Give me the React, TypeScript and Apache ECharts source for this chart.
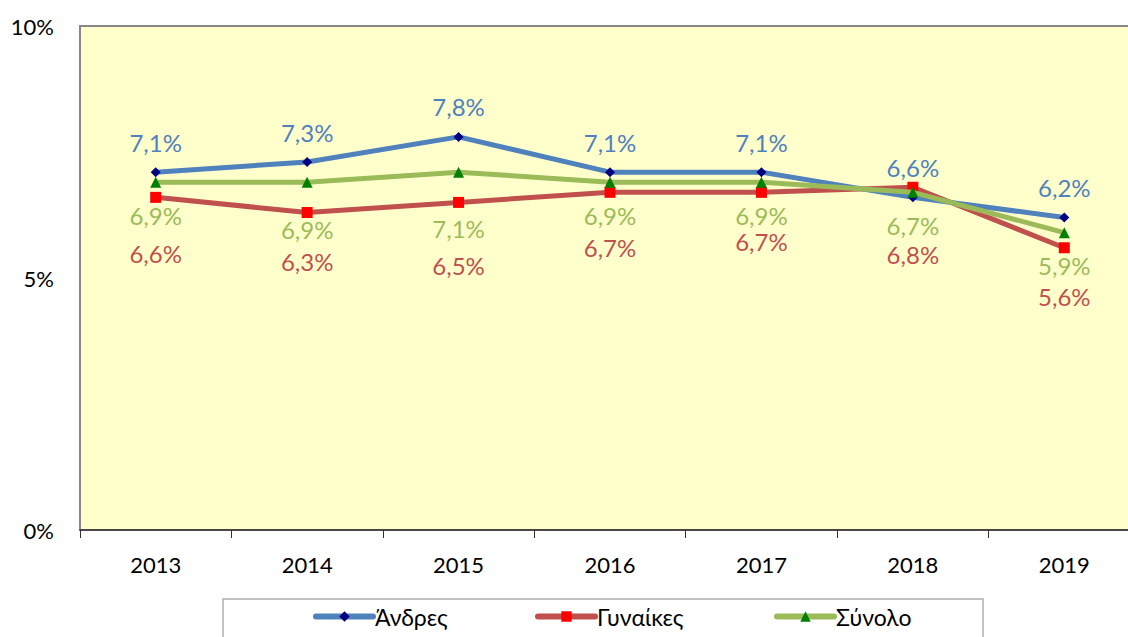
import React, { useEffect, useRef } from "react";
import * as echarts from "echarts";

const years = ["2013", "2014", "2015", "2016", "2017", "2018", "2019"];
const men = [7.1, 7.3, 7.8, 7.1, 7.1, 6.6, 6.2];
const women = [6.6, 6.3, 6.5, 6.7, 6.7, 6.8, 5.6];
const total = [6.9, 6.9, 7.1, 6.9, 6.9, 6.7, 5.9];
const seriesNames = ["Άνδρες", "Γυναίκες", "Σύνολο"];
const yTicks = [0, 5, 10];

const FONT = "Lato";
const fmt = (v: number) => v.toFixed(1).replace(".", ",") + "%";

export default function App() {
  const ref = useRef<HTMLDivElement>(null);
  useEffect(() => {
    document.body.style.margin = "0";
    const chart = echarts.init(ref.current!, null, { renderer: "svg" });
    const womenDist = [39, 32, 46, 38, 32, 50, 31];
    const totalDist = [16, 30, 39, 16, 16, 16, 15];
    const mkData = (vals: number[], dist: number[]) =>
      vals.map((v, i) => ({ value: v, label: { distance: dist[i] } }));
    const legendLefts = [308, 530, 769];
    const legendBase = {
      top: 600,
      itemWidth: 57,
      itemHeight: 13,
      lineStyle: { width: 6, cap: "round" },
      textStyle: { fontSize: 23, color: "#000", fontFamily: FONT, padding: [0, 0, 0, -3] },
    };
    chart.setOption({
      animation: false,
      textStyle: { fontFamily: FONT },
      grid: {
        left: 80,
        top: 26,
        width: 1060,
        height: 504,
        show: true,
        backgroundColor: "#FFFFCC",
        borderColor: "#878787",
        borderWidth: 2,
      },
      legend: seriesNames.map((n, i) => ({ ...legendBase, left: legendLefts[i], data: [n] })),
      graphic: [
        {
          type: "rect",
          shape: { x: 223, y: 599, width: 760, height: 60 },
          style: { fill: "none", stroke: "#ADADAD", lineWidth: 1.5 },
          z: -1,
        },
      ],
      xAxis: {
        type: "category",
        data: years,
        boundaryGap: true,
        axisLine: { lineStyle: { color: "#333", width: 1.5 } },
        axisTick: { show: true, length: 8, lineStyle: { color: "#333" } },
        axisLabel: { fontSize: 22, color: "#000", margin: 23, fontFamily: FONT },
        z: 5,
      },
      yAxis: {
        type: "value",
        min: yTicks[0],
        max: yTicks[yTicks.length - 1],
        interval: 5,
        splitLine: { show: false },
        axisLine: { show: true, lineStyle: { color: "#878787", width: 2 } },
        axisTick: { show: false },
        axisLabel: {
          fontSize: 22,
          color: "#000",
          margin: 26,
          fontFamily: FONT,
          formatter: (v: number) => v + "%",
        },
      },
      series: [
        {
          name: seriesNames[0],
          type: "line",
          data: men,
          lineStyle: { color: "#4F81BD", width: 5 },
          itemStyle: { color: "#000080" },
          color: "#4F81BD",
          symbol: "diamond",
          symbolSize: 10,
          label: {
            show: true,
            position: "top",
            distance: 13,
            fontSize: 24,
            color: "#4F81BD",
            fontFamily: FONT,
            formatter: (p: any) => fmt(p.value),
          },
          z: 4,
        },
        {
          name: seriesNames[1],
          type: "line",
          data: mkData(women, womenDist),
          lineStyle: { color: "#C0504D", width: 5 },
          itemStyle: { color: "#FF0000" },
          color: "#C0504D",
          symbol: "rect",
          symbolSize: 11,
          label: {
            show: true,
            position: "bottom",
            fontSize: 24,
            color: "#C0504D",
            fontFamily: FONT,
            formatter: (p: any) => fmt(p.value),
          },
          z: 3,
        },
        {
          name: seriesNames[2],
          type: "line",
          data: mkData(total, totalDist),
          lineStyle: { color: "#9BBB59", width: 5 },
          itemStyle: { color: "#008000" },
          color: "#9BBB59",
          symbol: "triangle",
          symbolSize: 11,
          label: {
            show: true,
            position: "bottom",
            fontSize: 24,
            color: "#9BBB59",
            fontFamily: FONT,
            formatter: (p: any) => fmt(p.value),
          },
          z: 5,
        },
      ],
    });
    return () => chart.dispose();
  }, []);
  return (
    <div style={{ width: 1128, height: 637, overflow: "hidden" }}>
      <div ref={ref} style={{ width: 1145, height: 637 }} />
    </div>
  );
}
